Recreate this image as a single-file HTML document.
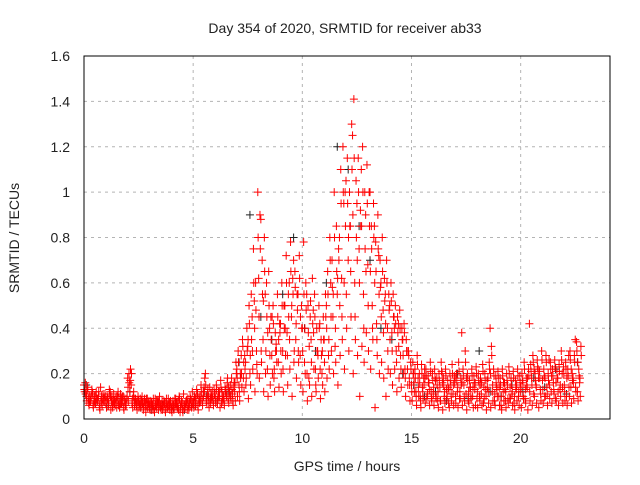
<!DOCTYPE html>
<html><head><meta charset="utf-8"><style>
body{margin:0;background:#fff;}
svg text{font-family:"Liberation Sans",sans-serif;font-size:14px;fill:#222;}
</style></head><body>
<svg id="chart" width="640" height="480">
<rect x="0" y="0" width="640" height="480" fill="#fff"/>
<g id="grid"></g>
<g id="marks"></g>
<rect x="84" y="56" width="526" height="363" fill="none" stroke="#000" stroke-width="1"/>
<g id="ticks"></g>
<text x="345" y="33" text-anchor="middle">Day 354 of 2020, SRMTID for receiver ab33</text>
<text x="347" y="471" text-anchor="middle">GPS time / hours</text>
<text x="0" y="0" text-anchor="middle" transform="translate(19,238) rotate(-90)">SRMTID / TECUs</text>
</svg>
<script>
const xTicks=[0,5,10,15,20];
const yTicks=[0,0.2,0.4,0.6,0.8,1,1.2,1.4,1.6];
const yTickLabels=["0","0.2","0.4","0.6","0.8","1","1.2","1.4","1.6"];
const redStep=0.1;
const redA=[.15,.12,.09,.08,.11,.07,.09,.06,.10,.08,.07,.09,.12,.06,.08,.05,.09,.07,.10,.06,.18,.12,.07,.09,.06,.08,.05,.07,.06,.09,.05,.07,.04,.06,.08,.05,.04,.07,.05,.06,.04,.06,.09,.05,.03,.07,.05,.08,.04,.06,.08,.06,.11,.07,.09,.14,.08,.10,.07,.09,.11,.08,.12,.07,.10,.13,.09,.15,.11,.12,.22,.15,.28,.18,.25,.32,.20,.45,.52,.30,.62,.88,.35,.55,.22,.40,.28,.18,.33,.25,.42,.30,.50,.38,.60,.45,.70,.35,.55,.28,.40,.25,.55,.18,.35,.48,.22,.30,.42,.20,.35,.50,.28,.60,.45,.32,.55,.80,.62,.95,1.05,.70,.85,1.25,.60,.95,.75,1.10,.55,.90,.68,1.0,.50,.85,.42,.72,.60,.48,.55,.40,.50,.38,.45,.30,.42,.28,.35,.22,.30,.18,.15,.20,.12,.18,.10,.14,.22,.09,.16,.12,.11,.17,.08,.14,.20,.10,.13,.07,.15,.11,.18,.12,.09,.38,.15,.11,.08,.14,.10,.13,.09,.15,.11,.07,.13,.18,.40,.12,.08,.14,.10,.06,.12,.08,.15,.09,.11,.07,.13,.10,.12,.16,.09,.14,.42,.18,.11,.15,.22,.13,.17,.10,.14,.26,.12,.16,.09,.18,.13,.20,.15,.10,.28,.14,.18,.35,.12,.16];
const redB=[.12,.08,.06,.10,.05,.07,.09,.04,.06,.08,.05,.07,.04,.08,.06,.10,.05,.07,.04,.06,.08,.22,.05,.07,.04,.06,.08,.05,.03,.06,.04,.06,.03,.05,.07,.04,.06,.03,.05,.04,.03,.05,.07,.04,.06,.03,.05,.04,.07,.05,.05,.07,.04,.08,.06,.18,.07,.05,.09,.06,.07,.09,.05,.08,.06,.10,.07,.09,.06,.08,.10,.08,.14,.12,.18,.09,.15,.22,.12,.20,.18,.25,.12,.30,.10,.15,.20,.12,.25,.14,.20,.12,.28,.15,.22,.10,.30,.18,.25,.15,.12,.20,.08,.15,.10,.22,.12,.18,.09,.15,.12,.18,.22,.30,.20,.25,.15,.28,.35,.22,.40,.30,.45,.20,.35,.28,.10,.32,.25,.38,.30,.22,.35,.05,.28,.20,.25,.18,.10,.22,.20,.15,.22,.12,.18,.14,.20,.10,.15,.08,.08,.12,.06,.10,.05,.09,.07,.11,.06,.08,.06,.09,.05,.08,.04,.07,.10,.05,.08,.06,.07,.05,.09,.06,.08,.04,.07,.09,.05,.06,.05,.08,.06,.09,.04,.07,.05,.08,.06,.10,.06,.04,.08,.05,.07,.09,.06,.04,.08,.06,.05,.09,.07,.04,.08,.06,.10,.07,.05,.08,.07,.10,.06,.09,.07,.11,.08,.06,.10,.07,.08,.06,.10,.07,.09,.12,.08,.10];
const redC=[.16,.14,.10,.13,.08,.12,.10,.14,.09,.11,.10,.13,.08,.11,.09,.12,.07,.10,.08,.09,.20,.15,.10,.09,.08,.07,.10,.08,.09,.07,.08,.06,.09,.07,.10,.06,.08,.07,.09,.08,.06,.09,.07,.10,.08,.11,.07,.09,.10,.12,.10,.13,.09,.15,.12,.20,.11,.14,.10,.13,.15,.12,.17,.10,.14,.16,.12,.18,.14,.25,.30,.20,.35,.28,.40,.50,.55,.75,.60,1.0,.90,.70,.80,.60,.65,.45,.50,.38,.55,.42,.60,.50,.72,.55,.78,.62,.65,.55,.72,.50,.78,.60,.50,.45,.62,.55,.40,.50,.35,.45,.55,.65,.80,.70,1.0,.85,.75,1.1,1.2,1.0,1.15,1.0,1.3,1.41,1.05,1.15,.92,1.2,1.0,1.12,1.0,.85,.95,.78,.90,.70,.80,.62,.70,.55,.60,.55,.50,.45,.48,.40,.42,.35,.30,.25,.25,.22,.28,.20,.24,.18,.22,.19,.25,.20,.22,.18,.20,.25,.18,.22,.17,.20,.24,.19,.20,.25,.18,.22,.30,.20,.17,.22,.19,.23,.20,.18,.24,.20,.17,.25,.32,.22,.19,.21,.18,.22,.16,.20,.23,.18,.21,.17,.22,.19,.20,.25,.18,.22,.24,.28,.20,.26,.21,.30,.22,.28,.20,.25,.22,.26,.21,.24,.30,.23,.25,.22,.30,.20,.28,.34,.22,.32];
const redD=[.13,.10,.07,.09,.06,.10,.08,.05,.07,.09,.08,.06,.10,.05,.07,.08,.06,.09,.05,.07,.14,.17,.09,.06,.07,.05,.06,.04,.07,.05,.06,.04,.05,.08,.04,.06,.05,.04,.06,.07,.05,.04,.06,.08,.05,.04,.06,.07,.05,.08,.07,.09,.06,.10,.08,.12,.09,.07,.11,.08,.09,.07,.10,.12,.08,.11,.14,.10,.08,.16,.18,.12,.20,.25,.15,.35,.28,.30,.40,.24,.45,.30,.52,.20,.38,.28,.45,.22,.30,.35,.30,.22,.40,.28,.35,.50,.25,.42,.30,.45,.30,.40,.20,.32,.25,.38,.15,.28,.22,.30,.25,.40,.35,.45,.55,.40,.62,.50,.45,.60,.55,.80,.65,.90,.45,.70,.60,.85,.40,.65,.50,.65,.40,.60,.35,.55,.45,.38,.42,.30,.35,.30,.40,.25,.32,.22,.28,.18,.22,.15,.12,.16,.10,.14,.08,.12,.18,.10,.13,.09,.14,.10,.12,.08,.16,.12,.09,.13,.11,.15,.10,.14,.12,.16,.10,.18,.12,.10,.14,.16,.12,.10,.16,.14,.10,.12,.20,.15,.11,.13,.14,.10,.16,.12,.09,.14,.12,.10,.15,.12,.14,.10,.13,.18,.12,.15,.22,.14,.18,.11,.13,.18,.11,.15,.19,.13,.16,.12,.15,.14,.12,.18,.14,.22,.16,.14,.25,.18];
const redE=[.11,.13,.08,.12,.10,.09,.12,.08,.11,.10,.09,.11,.10,.07,.10,.06,.11,.08,.09,.10,.16,.20,.12,.08,.10,.09,.07,.09,.06,.08,.07,.09,.06,.08,.06,.08,.07,.09,.06,.07,.08,.07,.05,.09,.07,.06,.08,.06,.09,.07,.09,.11,.08,.12,.10,.15,.13,.09,.12,.11,.13,.10,.14,.09,.12,.18,.11,.13,.16,.20,.25,.18,.32,.22,.30,.42,.35,.60,.48,.80,.75,.55,.65,.45,.50,.35,.42,.30,.45,.38,.50,.40,.60,.45,.65,.55,.58,.48,.62,.40,.55,.48,.38,.52,.42,.45,.30,.40,.28,.35,.45,.55,.70,.58,.80,.65,.70,.95,1.0,.85,.95,.85,1.1,1.15,.80,1.0,.85,1.0,.75,.95,.85,.75,.80,.65,.75,.58,.65,.52,.60,.48,.52,.45,.42,.38,.40,.35,.38,.30,.28,.22,.20,.18,.24,.16,.20,.15,.19,.16,.21,.17,.18,.15,.17,.21,.15,.19,.14,.17,.20,.16,.17,.21,.15,.19,.25,.17,.14,.19,.16,.20,.17,.15,.21,.17,.14,.22,.28,.19,.16,.18,.15,.19,.13,.17,.20,.15,.18,.14,.19,.16,.17,.22,.15,.19,.21,.25,.17,.23,.18,.26,.19,.25,.17,.22,.19,.23,.18,.21,.26,.20,.22,.19,.26,.17,.25,.30,.19,.28];
const blackStep=0.5;
const blackVals=[.15,.08,.06,.09,.12,.05,.04,.06,.05,.04,.06,.10,.08,.12,.25,.90,.45,.35,.55,.80,.40,.30,.60,1.20,1.10,.85,.70,.40,.35,.20,.15,.10,.12,.08,.20,.09,.30,.12,.10,.15,.12,.18,.14,.22,.11,.25];

const X0=84,X1=608,Y0=419,Y1=56;
function xs(h){return X0+h*(X1-X0)/24;}
function ys(v){return Y0-v*(Y0-Y1)/1.6;}
const NS="http://www.w3.org/2000/svg";
const grid=document.getElementById('grid'),ticks=document.getElementById('ticks'),marks=document.getElementById('marks');
function mk(tag,attrs,parent){const e=document.createElementNS(NS,tag);for(const k in attrs)e.setAttribute(k,attrs[k]);parent.appendChild(e);return e;}
yTicks.forEach((v,i)=>{
  const y=ys(v);
  if(i>0&&i<yTicks.length-1){const g=mk('line',{x1:X0,x2:610,y1:y,y2:y,stroke:'#b4b4b4','stroke-dasharray':'3,4'},grid);
  
  }
  const t=mk('text',{x:70,y:y+5,'text-anchor':'end'},ticks);t.textContent=yTickLabels[i];
  
  
});
xTicks.forEach((h,i)=>{
  const x=xs(h);
  if(i>0){const g=mk('line',{x1:x,x2:x,y1:Y1,y2:Y0,stroke:'#b4b4b4','stroke-dasharray':'3,4'},grid);
  
  }
  const t=mk('text',{x:x,y:443,'text-anchor':'middle'},ticks);t.textContent=String(h);
  
  
});
function plus(x,y,color){
  return mk('path',{d:`M${x-4},${y}h8M${x},${y-4}v8`,stroke:color,'stroke-width':1,fill:'none'},marks);
}
blackVals.forEach((v,i)=>{
  const p=plus(xs(i*blackStep+0.1),ys(v),'#222');
  
  
});
[[redA,0],[redB,0.03],[redC,0.06],[redD,0.015],[redE,0.075]].forEach(([arr,off])=>{
  arr.forEach((v,i)=>{
    const p=plus(xs(i*redStep+off),ys(v),'#ff0000');
    
    
  });
});
</script>
</body></html>
